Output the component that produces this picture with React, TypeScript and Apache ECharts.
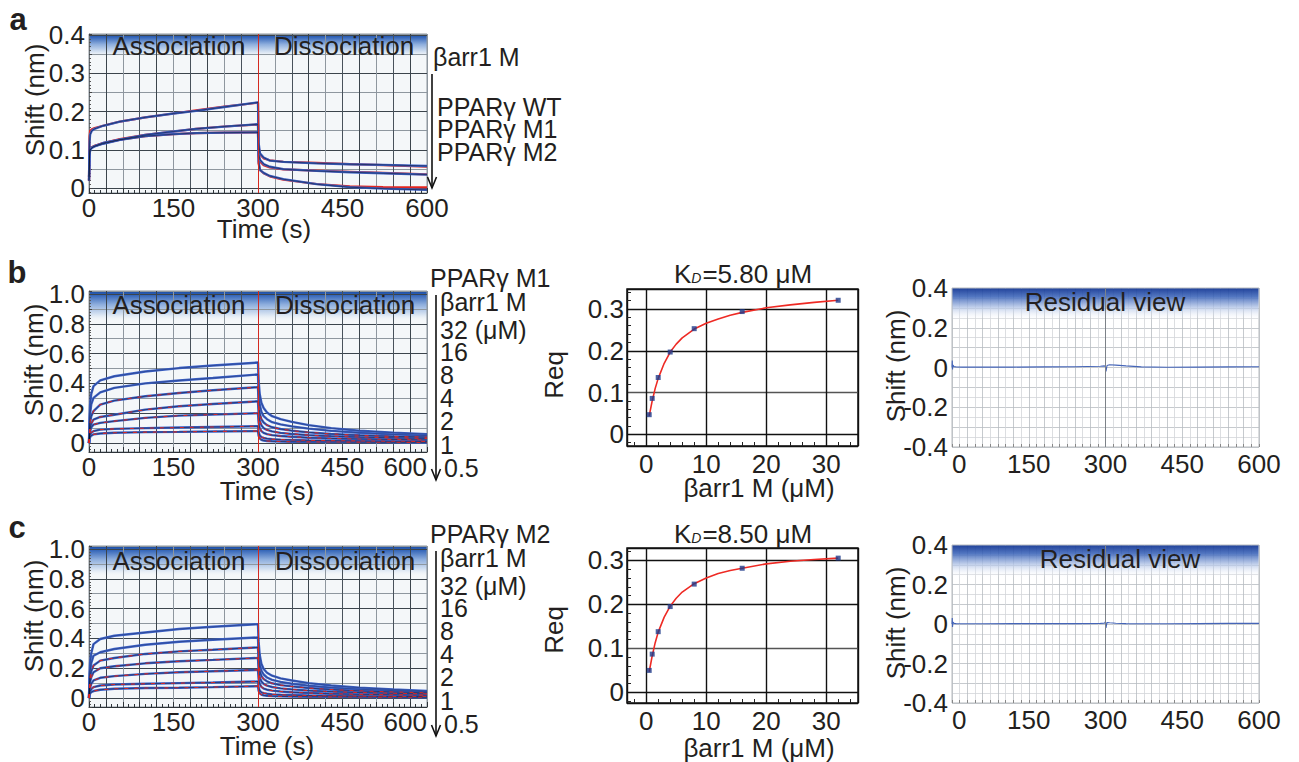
import React, { useEffect, useRef } from 'react';
import * as echarts from 'echarts';

const FONT = '"Liberation Sans", Arial, Helvetica, sans-serif';
const INK = '#231f20';
const BLUE = '#3d63c9';
const RED = '#e3261f';

// ---------- panel a (PPARγ WT / M1 / M2, βarr1 M) ----------
const aAssocT = [0, 1, 2, 5, 10, 25, 55, 100, 150, 190, 240, 300];
const aDissT = [300, 301, 303.5, 310, 321, 345, 404, 463, 522, 600];
const aWTAssoc = [0.03, 0.12, 0.14, 0.15, 0.155, 0.163, 0.174, 0.185, 0.195, 0.202, 0.212, 0.224];
const aWTDiss = [0.224, 0.12, 0.091, 0.08, 0.072, 0.0687, 0.065, 0.0626, 0.061, 0.058];
const aM1Assoc = [0.02, 0.085, 0.1, 0.106, 0.11, 0.118, 0.127, 0.139, 0.148, 0.155, 0.161, 0.167];
const aM1Diss = [0.167, 0.09, 0.074, 0.063, 0.056, 0.0496, 0.045, 0.0417, 0.039, 0.0356];
const aM2Assoc = [0.02, 0.085, 0.1, 0.105, 0.109, 0.116, 0.126, 0.136, 0.141, 0.144, 0.145, 0.146];
const aM2Diss = [0.146, 0.07, 0.048, 0.04, 0.032, 0.0235, 0.0104, 0.0026, -0.001, -0.0045];
// fitted curves (red)
const aWTFitAssoc = [0.03, 0.135, 0.15, 0.154, 0.157, 0.163, 0.174, 0.185, 0.195, 0.203, 0.213, 0.223];
const aWTFitDiss = [0.223, 0.11, 0.088, 0.078, 0.073, 0.069, 0.066, 0.063, 0.06, 0.056];
const aM1FitAssoc = [0.02, 0.095, 0.103, 0.107, 0.111, 0.118, 0.128, 0.139, 0.148, 0.155, 0.161, 0.166];
const aM1FitDiss = [0.166, 0.085, 0.07, 0.06, 0.054, 0.049, 0.046, 0.043, 0.04, 0.036];
const aM2FitAssoc = [0.02, 0.095, 0.102, 0.106, 0.11, 0.117, 0.127, 0.136, 0.141, 0.144, 0.145, 0.146];
const aM2FitDiss = [0.146, 0.065, 0.047, 0.039, 0.031, 0.022, 0.011, 0.005, 0.003, 0.002];

// ---------- panels b / c kinetics (βarr1 M 32 → 0.5 µM) ----------
const kAssocT = [0, 1, 2, 4, 8, 20, 45, 100, 160, 220, 300];
const kDissT = [300, 301, 303, 306, 310, 316, 325, 340, 360, 390, 430, 480, 540, 600];

const bAssoc = [
  [0.0, 0.17, 0.26, 0.33, 0.382, 0.42, 0.448, 0.48, 0.503, 0.52, 0.54],
  [0.0, 0.13, 0.2, 0.26, 0.303, 0.34, 0.37, 0.4, 0.42, 0.436, 0.46],
  [0.0, 0.09, 0.14, 0.18, 0.215, 0.258, 0.285, 0.314, 0.336, 0.354, 0.375],
  [0.0, 0.06, 0.1, 0.13, 0.158, 0.175, 0.19, 0.224, 0.247, 0.262, 0.28],
  [0.0, 0.05, 0.08, 0.105, 0.124, 0.135, 0.147, 0.169, 0.184, 0.191, 0.2],
  [0.0, 0.035, 0.055, 0.07, 0.08, 0.09, 0.095, 0.1, 0.104, 0.108, 0.113],
  [0.0, 0.025, 0.04, 0.05, 0.058, 0.064, 0.069, 0.073, 0.075, 0.078, 0.08],
];
const bDiss = [
  [0.54, 0.42, 0.33, 0.27, 0.235, 0.205, 0.18, 0.16, 0.142, 0.12, 0.1, 0.083, 0.07, 0.06],
  [0.46, 0.34, 0.26, 0.21, 0.18, 0.16, 0.14, 0.125, 0.112, 0.097, 0.082, 0.069, 0.058, 0.05],
  [0.375, 0.27, 0.2, 0.16, 0.138, 0.12, 0.106, 0.094, 0.083, 0.072, 0.061, 0.052, 0.045, 0.04],
  [0.28, 0.2, 0.15, 0.12, 0.1, 0.088, 0.078, 0.068, 0.061, 0.053, 0.046, 0.04, 0.035, 0.031],
  [0.2, 0.14, 0.1, 0.08, 0.068, 0.06, 0.053, 0.047, 0.042, 0.036, 0.031, 0.027, 0.024, 0.021],
  [0.113, 0.075, 0.052, 0.04, 0.034, 0.03, 0.026, 0.023, 0.021, 0.018, 0.016, 0.014, 0.012, 0.011],
  [0.08, 0.05, 0.032, 0.022, 0.017, 0.014, 0.012, 0.01, 0.009, 0.008, 0.007, 0.006, 0.005, 0.004],
];
const cAssoc = [
  [0.0, 0.16, 0.24, 0.3, 0.362, 0.396, 0.418, 0.44, 0.463, 0.478, 0.496],
  [0.0, 0.12, 0.18, 0.235, 0.284, 0.307, 0.329, 0.358, 0.378, 0.391, 0.407],
  [0.0, 0.09, 0.14, 0.18, 0.218, 0.251, 0.269, 0.296, 0.313, 0.324, 0.34],
  [0.0, 0.07, 0.11, 0.14, 0.173, 0.2, 0.213, 0.233, 0.247, 0.256, 0.269],
  [0.0, 0.045, 0.07, 0.095, 0.118, 0.136, 0.147, 0.162, 0.173, 0.18, 0.189],
  [0.0, 0.03, 0.045, 0.06, 0.073, 0.084, 0.091, 0.096, 0.1, 0.104, 0.111],
  [0.0, 0.02, 0.03, 0.04, 0.047, 0.056, 0.062, 0.067, 0.069, 0.073, 0.08],
];
const cDiss = [
  [0.496, 0.38, 0.29, 0.23, 0.195, 0.17, 0.15, 0.132, 0.118, 0.1, 0.084, 0.07, 0.058, 0.048],
  [0.407, 0.3, 0.23, 0.185, 0.158, 0.138, 0.122, 0.108, 0.096, 0.083, 0.07, 0.059, 0.05, 0.042],
  [0.34, 0.25, 0.185, 0.148, 0.127, 0.112, 0.099, 0.087, 0.078, 0.067, 0.057, 0.048, 0.041, 0.035],
  [0.269, 0.19, 0.14, 0.112, 0.095, 0.083, 0.074, 0.065, 0.058, 0.05, 0.043, 0.037, 0.032, 0.028],
  [0.189, 0.13, 0.095, 0.075, 0.064, 0.056, 0.05, 0.044, 0.039, 0.034, 0.029, 0.025, 0.022, 0.019],
  [0.111, 0.072, 0.05, 0.039, 0.033, 0.029, 0.025, 0.022, 0.02, 0.017, 0.015, 0.013, 0.011, 0.01],
  [0.08, 0.05, 0.032, 0.023, 0.018, 0.015, 0.013, 0.011, 0.01, 0.009, 0.008, 0.007, 0.006, 0.005],
];
const concLabels = ['32 (μM)', '16', '8', '4', '2', '1', '0.5'];

// ---------- steady-state Req vs concentration ----------
const concs = [0.5, 1, 2, 4, 8, 16, 32];
const reqM1 = [0.047, 0.086, 0.136, 0.197, 0.253, 0.294, 0.321];
const reqM2 = [0.05, 0.087, 0.138, 0.195, 0.246, 0.282, 0.305];
const fitConc = [0.5, 1, 1.5, 2, 3, 4, 5, 6, 8, 10, 12, 14, 16, 20, 24, 28, 32];
const fitM1 = [0.044, 0.08, 0.11, 0.134, 0.17, 0.197, 0.216, 0.231, 0.252, 0.266, 0.276, 0.285, 0.292, 0.303, 0.31, 0.316, 0.321];
const fitM2 = [0.047, 0.083, 0.113, 0.137, 0.171, 0.196, 0.214, 0.228, 0.247, 0.26, 0.27, 0.277, 0.282, 0.292, 0.298, 0.302, 0.305];

// ---------- residuals ----------
const resT = [0, 0.5, 1, 2, 4, 8, 20, 60, 120, 180, 240, 290, 298, 300, 301, 303, 308, 320, 340, 370, 420, 480, 540, 600];
const resB = [0.0, 0.035, -0.01, 0.012, 0.004, 0.003, 0.002, 0.002, 0.002, 0.003, 0.004, 0.006, 0.008, 0.005, -0.02, 0.01, 0.014, 0.012, 0.008, 0.003, 0.001, 0.002, 0.003, 0.004];
const resC = [0.0, 0.03, -0.015, 0.01, 0.003, 0.002, 0.001, 0.001, 0.002, 0.002, 0.002, 0.003, 0.004, 0.012, -0.02, 0.008, 0.006, 0.004, 0.002, 0.001, 0.001, 0.002, 0.003, 0.003];

// ---------- layout ----------
const GRIDS = [
  { left: 89, top: 34, width: 338, height: 159 }, // 0 a kinetics
  { left: 89, top: 291, width: 338, height: 161 }, // 1 b kinetics
  { left: 627, top: 289, width: 231, height: 157 }, // 2 b Req
  { left: 952, top: 288, width: 307, height: 159 }, // 3 b residual
  { left: 89, top: 546, width: 338, height: 161 }, // 4 c kinetics
  { left: 627, top: 548, width: 231, height: 155 }, // 5 c Req
  { left: 952, top: 545, width: 307, height: 158 }, // 6 c residual
];

const zip = (xs: number[], ys: number[]) => xs.map((x, i) => [x, ys[i]]);
const lab = (step: number, dec: number) => (v: number) => {
  const r = Math.round(v * 1e6) / 1e6;
  const k = r / step;
  if (Math.abs(k - Math.round(k)) > 1e-6) return '';
  if (r === 0) return '0';
  return r.toFixed(dec);
};
const labelStyle = { fontSize: 26, fontFamily: FONT, color: INK, lineHeight: 20 };

const kinX = (gi: number, alignMax: boolean) => ({
  type: 'value', gridIndex: gi, min: 0, max: 600, interval: 30,
  axisLine: { show: true, onZero: false, lineStyle: { color: '#2e3439', width: 1 } },
  axisTick: { show: true, inside: true, length: 5, lineStyle: { color: '#2e3439' } },
  minorTick: { show: true, splitNumber: 3, length: 3, lineStyle: { color: '#2e3439' } },
  splitLine: { show: true, lineStyle: { color: ['#48525b', '#3b444c', '#8e979f'], width: 1 } },
  axisLabel: { ...labelStyle, margin: 5, formatter: lab(150, 0), showMinLabel: true, showMaxLabel: true, alignMaxLabel: alignMax ? 'right' : 'center' },
});
const kinY = (gi: number, min: number, max: number, split: number, step: number) => ({
  type: 'value', gridIndex: gi, min, max, splitNumber: split,
  axisLine: { show: true, onZero: false, lineStyle: { color: '#6b7379', width: 1 } },
  axisTick: { show: true, inside: true, length: 3, lineStyle: { color: '#444' } },
  minorTick: { show: true, splitNumber: 5, length: 2, lineStyle: { color: '#555' } },
  splitLine: { show: true, lineStyle: { color: ['#8e979f', '#3b444c'], width: 1 } },
  axisLabel: { ...labelStyle, margin: 4, formatter: lab(step, 1) },
});
const reqX = (gi: number) => ({
  type: 'value', gridIndex: gi, min: -3.2, max: 35.3, splitNumber: 4,
  axisLine: { show: false, onZero: false },
  axisTick: { show: false, inside: true },
  minorTick: { show: true, splitNumber: 5, length: 4, lineStyle: { color: '#222', width: 1 } },
  splitLine: { show: true, lineStyle: { color: '#111', width: 1.4 } },
  axisLabel: { ...labelStyle, margin: 8, formatter: lab(10, 0) },
});
const reqY = (gi: number, min: number, max: number) => ({
  type: 'value', gridIndex: gi, min, max, splitNumber: 4,
  axisLine: { show: false, onZero: false },
  axisTick: { show: false, inside: true },
  minorTick: { show: true, splitNumber: 5, length: 4, lineStyle: { color: '#222', width: 1 } },
  splitLine: { show: true, lineStyle: { color: ['#111', '#111', '#555', '#111', '#111'], width: 1.4 } },
  axisLabel: { ...labelStyle, margin: 3, formatter: lab(0.1, 1) },
});
const resX = (gi: number) => ({
  type: 'value', gridIndex: gi, min: 0, max: 600, interval: 15,
  axisLine: { show: false, onZero: false },
  axisTick: { show: true, inside: true, length: 3, lineStyle: { color: '#888' } },
  splitLine: { show: true, lineStyle: { color: ['#b8bdc2', '#d3d6d9'], width: 0.8 } },
  axisLabel: { ...labelStyle, margin: 7, formatter: lab(150, 0), showMinLabel: true, showMaxLabel: true, alignMinLabel: 'left' },
});
const resY = (gi: number) => ({
  type: 'value', gridIndex: gi, min: -0.4, max: 0.4, interval: 0.05,
  axisLine: { show: false, onZero: false },
  axisTick: { show: false },
  splitLine: { show: true, lineStyle: { color: ['#b8bdc2', '#d3d6d9'], width: 0.8 } },
  axisLabel: { ...labelStyle, margin: 4, formatter: lab(0.2, 1), showMinLabel: true, showMaxLabel: true },
});

const line = (gi: number, data: number[][], color: string, width: number, z: number, type: any = 'solid', opacity = 1) => ({
  type: 'line', xAxisIndex: gi, yAxisIndex: gi, data, showSymbol: false, symbol: 'none', silent: true,
  lineStyle: { color, width, type, opacity }, z,
});
const vMark = (color: string) => ({
  silent: true, symbol: ['none', 'none'], label: { show: false },
  lineStyle: { color, width: 1, type: 'solid' }, data: [{ xAxis: 300 }],
});

function buildSeries() {
  const s: any[] = [];
  // panel a
  const aSets = [
    [aWTAssoc, aWTDiss, aWTFitAssoc, aWTFitDiss],
    [aM1Assoc, aM1Diss, aM1FitAssoc, aM1FitDiss],
    [aM2Assoc, aM2Diss, aM2FitAssoc, aM2FitDiss],
  ];
  aSets.forEach(([as, ds, fa, fd], i) => {
    s.push(line(0, zip(aAssocT, fa).concat(zip(aDissT, fd)), RED, 2.2, 2));
    const blue: any = line(0, zip(aAssocT, as).concat(zip(aDissT, ds)), BLUE, 2.3, 3);
    if (i === 0) blue.markLine = vMark('#d42a20');
    s.push(blue);
    s.push(line(0, zip(aAssocT, as).concat(zip(aDissT, ds)), '#0c0c18', 0.6, 4, 'solid', 0.85));
  });
  // panels b and c kinetics
  const kin = (gi: number, assoc: number[][], diss: number[][]) => {
    assoc.forEach((as, i) => {
      const d = zip(kAssocT, as).concat(zip(kDissT, diss[i]));
      const blue: any = line(gi, d, BLUE, 2.4, 3);
      if (i === 0) blue.markLine = vMark('#d42a20');
      s.push(blue);
      s.push(line(gi, d, '#0c0c18', 0.55, 4, 'solid', i < 2 ? 0.5 : 0.85));
      if (i >= 2) s.push(line(gi, d, RED, 1.1, 5, [4, 6], 0.9));
    });
  };
  kin(1, bAssoc, bDiss);
  kin(4, cAssoc, cDiss);
  // Req panels
  const req = (gi: number, pts: number[], fit: number[]) => {
    s.push(line(gi, zip(fitConc, fit), '#ee2a24', 1.6, 3));
    s.push({
      type: 'scatter', xAxisIndex: gi, yAxisIndex: gi, data: zip(concs, pts), symbol: 'rect', symbolSize: 5,
      itemStyle: { color: '#1e3a8a' }, silent: true, z: 4,
    });
  };
  req(2, reqM1, fitM1);
  req(5, reqM2, fitM2);
  // residuals
  const res = (gi: number, r: number[]) => {
    const l: any = line(gi, zip(resT, r), '#4565b8', 1.1, 3);
    l.markLine = vMark('#7d8288');
    s.push(l);
  };
  res(3, resB);
  res(6, resC);
  return s;
}

const txt = (text: string, x: number, y: number, o: any = {}) => ({
  type: 'text', x, y, z: 20, rotation: o.rot || 0, silent: true,
  style: {
    text, fill: INK, font: `${o.bold ? 'bold ' : ''}${o.size || 26}px ${FONT}`,
    lineHeight: o.lh || 20,
    textAlign: o.align || 'center', textVerticalAlign: 'middle',
    align: o.align || 'center', verticalAlign: 'middle',
  },
});
const grad = (stops: [number, string][]) => ({
  type: 'linear', x: 0, y: 0, x2: 0, y2: 1, global: false,
  colorStops: stops.map(([offset, color]) => ({ offset, color })),
});
const kinHeader = (g: any, h: number) => ({
  type: 'rect', z: -1, silent: true, shape: { x: g.left, y: g.top, width: g.width, height: h },
  style: { fill: grad([[0, '#1a4a9e'], [0.12, '#2f61b6'], [0.45, '#8eaedd'], [0.8, '#dbe6f3'], [1, 'rgba(243,246,249,0)']]) },
});
const resHeader = (g: any, h: number) => ({
  type: 'rect', z: 1, silent: true, shape: { x: g.left + 0.5, y: g.top + 0.5, width: g.width - 1, height: h },
  style: { fill: grad([[0, 'rgba(23,58,150,0.95)'], [0.25, 'rgba(58,99,184,0.88)'], [0.6, 'rgba(183,200,232,0.8)'], [1, 'rgba(255,255,255,0)']]) },
});
const kinBg = (g: any) => ({
  type: 'rect', z: -2, silent: true, shape: { x: g.left, y: g.top, width: g.width, height: g.height },
  style: { fill: '#f4f7f9' },
});
const arrow = (x: number, y0: number, y1: number) => ([
  { type: 'line', z: 20, silent: true, shape: { x1: x, y1: y0, x2: x, y2: y1 }, style: { stroke: '#111', lineWidth: 1.6 } },
  { type: 'polyline', z: 20, silent: true, shape: { points: [[x - 4.5, y1 - 11], [x, y1], [x + 4.5, y1 - 11]] }, style: { stroke: '#111', lineWidth: 1.6, fill: 'none' } },
]);
const kdTitle = (val: string, x: number, y: number) => ({
  type: 'text', x, y, z: 20, silent: true,
  style: {
    text: `{k|K}{d|D}{k|=${val} μM}`, textAlign: 'center', textVerticalAlign: 'middle', align: 'center', verticalAlign: 'middle',
    rich: {
      k: { fontSize: 26, fontFamily: FONT, fill: INK, color: INK, lineHeight: 22 },
      d: { fontSize: 14, fontFamily: FONT, fontStyle: 'italic', fill: INK, color: INK, verticalAlign: 'bottom', padding: [0, 1, 0, 0] },
    },
  },
});

function buildGraphics() {
  const g: any[] = [];
  const [ga, gb, gbm, gbr, gc, gcm, gcr] = GRIDS;
  [ga, gb, gc].forEach((gr) => g.push(kinBg(gr)));
  g.push(kinHeader(ga, 23));
  g.push(kinHeader(gb, 30));
  g.push(kinHeader(gc, 30));
  g.push(resHeader(gbr, 32));
  g.push(resHeader(gcr, 32));
  // panel letters
  g.push(txt('a', 18, 19, { bold: true, size: 31, lh: 26 }));
  g.push(txt('b', 17, 272, { bold: true, size: 31, lh: 26 }));
  g.push(txt('c', 17, 527, { bold: true, size: 31, lh: 26 }));
  // header labels
  g.push(txt('Association', 179, 46));
  g.push(txt('Dissociation', 344, 46));
  g.push(txt('Association', 179, 305));
  g.push(txt('Dissociation', 345, 305));
  g.push(txt('Association', 179, 561));
  g.push(txt('Dissociation', 345, 561));
  g.push(txt('Residual view', 1105, 302));
  g.push(txt('Residual view', 1120, 559));
  // axis titles
  g.push(txt('Shift (nm)', 35, 100, { rot: Math.PI / 2 }));
  g.push(txt('Time (s)', 264, 229));
  g.push(txt('Shift (nm)', 34, 360, { rot: Math.PI / 2 }));
  g.push(txt('Time (s)', 267, 491));
  g.push(txt('Shift (nm)', 34, 616, { rot: Math.PI / 2 }));
  g.push(txt('Time (s)', 267, 746));
  g.push(txt('Req', 554, 375, { rot: Math.PI / 2 }));
  g.push(txt('βarr1 M (μM)', 759, 488));
  g.push(txt('Req', 554, 630, { rot: Math.PI / 2 }));
  g.push(txt('βarr1 M (μM)', 759, 748));
  g.push(txt('Shift (nm)', 896, 366, { rot: Math.PI / 2 }));
  g.push(txt('Shift (nm)', 896, 623, { rot: Math.PI / 2 }));
  g.push(kdTitle('5.80', 743, 274));
  g.push(kdTitle('8.50', 743, 534));
  // panel a right labels
  g.push(txt('βarr1 M', 433, 57, { align: 'left', size: 25 }));
  g.push(txt('PPARγ WT', 437, 107, { align: 'left', size: 25 }));
  g.push(txt('PPARγ M1', 437, 129, { align: 'left', size: 25 }));
  g.push(txt('PPARγ M2', 437, 152, { align: 'left', size: 25 }));
  g.push(...arrow(432, 74, 188));
  // panels b / c right labels
  const concY = [330, 352, 375, 398, 421, 445, 468];
  [[0, 'PPARγ M1'], [256, 'PPARγ M2']].forEach(([dy, name]: any) => {
    g.push(txt(name, 430, 278 + dy, { align: 'left', size: 25 }));
    g.push(txt('βarr1 M', 440, 302 + dy, { align: 'left', size: 25 }));
    concLabels.forEach((c, i) => g.push(txt(c, i === 6 ? 444 : 440, concY[i] + dy, { align: 'left', size: 25 })));
    g.push(...arrow(436, 295 + dy, 480 + dy));
  });
  return g;
}

export default function App() {
  const ref = useRef<HTMLDivElement>(null);
  useEffect(() => {
    document.body.style.margin = '0';
    if (!ref.current) return;
    const chart = echarts.init(ref.current, null, { renderer: 'svg' });
    const kinGridStyle = { show: true, borderColor: '#8d959c', borderWidth: 1, backgroundColor: 'transparent' };
    const option: any = {
      animation: false,
      grid: GRIDS.map((g, i) => ({
        ...g, containLabel: false, outerBoundsMode: 'none',
        ...(i === 2 || i === 5
          ? { show: true, borderColor: '#111', borderWidth: 1.5, backgroundColor: 'transparent' }
          : i === 3 || i === 6
          ? { show: true, borderColor: '#a3a8ad', borderWidth: 0.8, backgroundColor: 'transparent' }
          : kinGridStyle),
      })),
      xAxis: [kinX(0, false), kinX(1, true), reqX(2), resX(3), kinX(4, true), reqX(5), resX(6)],
      yAxis: [
        kinY(0, -0.0125, 0.4025, 8, 0.1),
        kinY(1, -0.06, 1.02, 10, 0.2),
        reqY(2, -0.028, 0.348),
        resY(3),
        kinY(4, -0.06, 1.02, 10, 0.2),
        reqY(5, -0.024, 0.328),
        resY(6),
      ],
      series: buildSeries(),
      graphic: { elements: buildGraphics() },
    };
    chart.setOption(option);
    return () => chart.dispose();
  }, []);
  return <div ref={ref} style={{ width: 1299, height: 762 }} />;
}
